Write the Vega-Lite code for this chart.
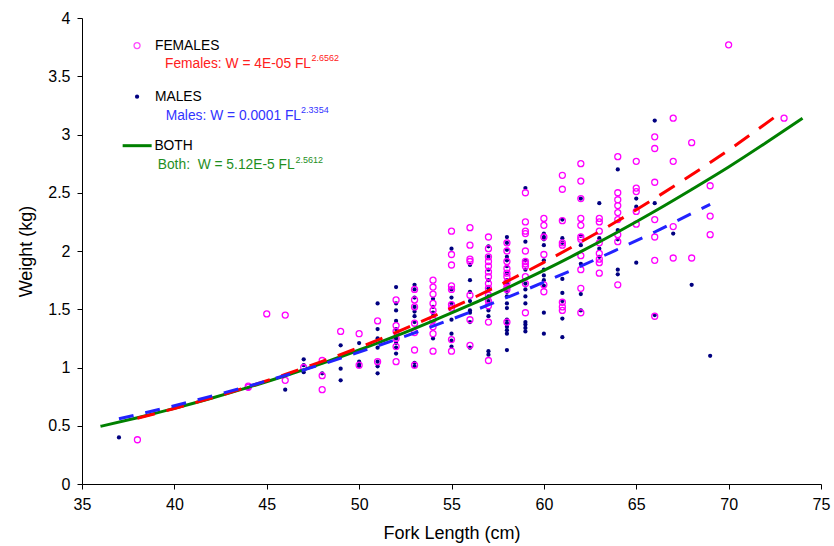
{
  "$schema": "https://vega.github.io/schema/vega-lite/v6.json",
  "width": 739,
  "height": 466,
  "autosize": "none",
  "padding": {"left": 82, "top": 18, "right": 13, "bottom": 62},
  "background": "white",
  "config": {
    "view": {"stroke": null},
    "font": "Liberation Sans",
    "axis": {"domainColor": "#000000", "tickColor": "#000000", "labelColor": "#000000", "titleColor": "#000000", "grid": false, "tickSize": 5, "labelFontSize": 16, "titleFontSize": 18, "titleFontWeight": "normal", "labelFont": "Liberation Sans", "titleFont": "Liberation Sans"}
  },
  "datasets": {
    "pts": [
      {"sex":"F","FL":38,"W":0.38},
      {"sex":"F","FL":44,"W":0.83},{"sex":"F","FL":44,"W":0.84},
      {"sex":"F","FL":45,"W":1.46},
      {"sex":"F","FL":46,"W":1.45},{"sex":"F","FL":46,"W":0.89},
      {"sex":"F","FL":47,"W":1.0},
      {"sex":"F","FL":48,"W":1.06},{"sex":"F","FL":48,"W":0.93},{"sex":"F","FL":48,"W":0.81},
      {"sex":"F","FL":49,"W":1.31},
      {"sex":"F","FL":50,"W":1.29},{"sex":"F","FL":50,"W":1.02},
      {"sex":"F","FL":51,"W":1.40},{"sex":"F","FL":51,"W":1.05},
      {"sex":"F","FL":52,"W":1.58},{"sex":"F","FL":52,"W":1.36},{"sex":"F","FL":52,"W":1.31},{"sex":"F","FL":52,"W":1.25},{"sex":"F","FL":52,"W":1.18},{"sex":"F","FL":52,"W":1.05},
      {"sex":"F","FL":53,"W":1.67},{"sex":"F","FL":53,"W":1.58},{"sex":"F","FL":53,"W":1.52},{"sex":"F","FL":53,"W":1.38},{"sex":"F","FL":53,"W":1.30},{"sex":"F","FL":53,"W":1.15},{"sex":"F","FL":53,"W":1.02},
      {"sex":"F","FL":54,"W":1.75},{"sex":"F","FL":54,"W":1.69},{"sex":"F","FL":54,"W":1.63},{"sex":"F","FL":54,"W":1.55},{"sex":"F","FL":54,"W":1.49},{"sex":"F","FL":54,"W":1.41},{"sex":"F","FL":54,"W":1.35},{"sex":"F","FL":54,"W":1.29},{"sex":"F","FL":54,"W":1.14},
      {"sex":"F","FL":55,"W":2.17},{"sex":"F","FL":55,"W":1.97},{"sex":"F","FL":55,"W":1.88},{"sex":"F","FL":55,"W":1.70},{"sex":"F","FL":55,"W":1.67},{"sex":"F","FL":55,"W":1.54},{"sex":"F","FL":55,"W":1.51},{"sex":"F","FL":55,"W":1.24},{"sex":"F","FL":55,"W":1.14},
      {"sex":"F","FL":56,"W":2.20},{"sex":"F","FL":56,"W":2.05},{"sex":"F","FL":56,"W":1.93},{"sex":"F","FL":56,"W":1.91},{"sex":"F","FL":56,"W":1.62},{"sex":"F","FL":56,"W":1.41},{"sex":"F","FL":56,"W":1.19},
      {"sex":"F","FL":57,"W":2.12},{"sex":"F","FL":57,"W":2.02},{"sex":"F","FL":57,"W":1.95},{"sex":"F","FL":57,"W":1.91},{"sex":"F","FL":57,"W":1.87},{"sex":"F","FL":57,"W":1.82},{"sex":"F","FL":57,"W":1.78},{"sex":"F","FL":57,"W":1.72},{"sex":"F","FL":57,"W":1.68},{"sex":"F","FL":57,"W":1.62},{"sex":"F","FL":57,"W":1.57},{"sex":"F","FL":57,"W":1.53},{"sex":"F","FL":57,"W":1.39},{"sex":"F","FL":57,"W":1.06},
      {"sex":"F","FL":58,"W":2.07},{"sex":"F","FL":58,"W":2.00},{"sex":"F","FL":58,"W":1.91},{"sex":"F","FL":58,"W":1.85},{"sex":"F","FL":58,"W":1.81},{"sex":"F","FL":58,"W":1.78},{"sex":"F","FL":58,"W":1.73},{"sex":"F","FL":58,"W":1.69},{"sex":"F","FL":58,"W":1.67},{"sex":"F","FL":58,"W":1.39},
      {"sex":"F","FL":59,"W":2.50},{"sex":"F","FL":59,"W":2.25},{"sex":"F","FL":59,"W":2.17},{"sex":"F","FL":59,"W":2.15},{"sex":"F","FL":59,"W":2.00},{"sex":"F","FL":59,"W":1.91},{"sex":"F","FL":59,"W":1.89},{"sex":"F","FL":59,"W":1.87},{"sex":"F","FL":59,"W":1.78},{"sex":"F","FL":59,"W":1.72},{"sex":"F","FL":59,"W":1.47},
      {"sex":"F","FL":60,"W":2.28},{"sex":"F","FL":60,"W":2.22},{"sex":"F","FL":60,"W":2.12},{"sex":"F","FL":60,"W":1.97},{"sex":"F","FL":60,"W":1.71},{"sex":"F","FL":60,"W":1.65},
      {"sex":"F","FL":61,"W":2.65},{"sex":"F","FL":61,"W":2.53},{"sex":"F","FL":61,"W":2.26},{"sex":"F","FL":61,"W":2.07},{"sex":"F","FL":61,"W":2.05},{"sex":"F","FL":61,"W":1.56},{"sex":"F","FL":61,"W":1.52},{"sex":"F","FL":61,"W":1.49},
      {"sex":"F","FL":62,"W":2.75},{"sex":"F","FL":62,"W":2.60},{"sex":"F","FL":62,"W":2.45},{"sex":"F","FL":62,"W":2.28},{"sex":"F","FL":62,"W":2.22},{"sex":"F","FL":62,"W":2.12},{"sex":"F","FL":62,"W":2.10},{"sex":"F","FL":62,"W":1.96},{"sex":"F","FL":62,"W":1.84},{"sex":"F","FL":62,"W":1.68},{"sex":"F","FL":62,"W":1.47},
      {"sex":"F","FL":63,"W":2.28},{"sex":"F","FL":63,"W":2.25},{"sex":"F","FL":63,"W":2.17},{"sex":"F","FL":63,"W":2.07},{"sex":"F","FL":63,"W":1.98},{"sex":"F","FL":63,"W":1.93},{"sex":"F","FL":63,"W":1.90},{"sex":"F","FL":63,"W":1.81},
      {"sex":"F","FL":64,"W":2.81},{"sex":"F","FL":64,"W":2.50},{"sex":"F","FL":64,"W":2.44},{"sex":"F","FL":64,"W":2.39},{"sex":"F","FL":64,"W":2.33},{"sex":"F","FL":64,"W":2.27},{"sex":"F","FL":64,"W":2.14},{"sex":"F","FL":64,"W":2.08},{"sex":"F","FL":64,"W":1.71},
      {"sex":"F","FL":65,"W":2.77},{"sex":"F","FL":65,"W":2.54},{"sex":"F","FL":65,"W":2.51},{"sex":"F","FL":65,"W":2.34},{"sex":"F","FL":65,"W":2.23},
      {"sex":"F","FL":66,"W":2.98},{"sex":"F","FL":66,"W":2.88},{"sex":"F","FL":66,"W":2.59},{"sex":"F","FL":66,"W":2.27},{"sex":"F","FL":66,"W":2.12},{"sex":"F","FL":66,"W":1.92},{"sex":"F","FL":66,"W":1.44},
      {"sex":"F","FL":67,"W":3.14},{"sex":"F","FL":67,"W":2.77},{"sex":"F","FL":67,"W":2.21},{"sex":"F","FL":67,"W":1.94},
      {"sex":"F","FL":68,"W":2.93},{"sex":"F","FL":68,"W":1.94},
      {"sex":"F","FL":69,"W":2.56},{"sex":"F","FL":69,"W":2.30},{"sex":"F","FL":69,"W":2.14},
      {"sex":"F","FL":70,"W":3.77},
      {"sex":"F","FL":73,"W":3.14},
      {"sex":"M","FL":37,"W":0.40},
      {"sex":"M","FL":44,"W":0.82},
      {"sex":"M","FL":46,"W":0.81},
      {"sex":"M","FL":47,"W":1.07},{"sex":"M","FL":47,"W":1.02},{"sex":"M","FL":47,"W":0.96},
      {"sex":"M","FL":48,"W":0.95},
      {"sex":"M","FL":49,"W":1.19},{"sex":"M","FL":49,"W":0.99},{"sex":"M","FL":49,"W":0.89},
      {"sex":"M","FL":50,"W":1.21},{"sex":"M","FL":50,"W":1.05},{"sex":"M","FL":50,"W":1.03},{"sex":"M","FL":50,"W":1.01},
      {"sex":"M","FL":51,"W":1.55},{"sex":"M","FL":51,"W":1.33},{"sex":"M","FL":51,"W":1.25},{"sex":"M","FL":51,"W":1.17},{"sex":"M","FL":51,"W":1.05},{"sex":"M","FL":51,"W":1.01},{"sex":"M","FL":51,"W":0.95},
      {"sex":"M","FL":52,"W":1.69},{"sex":"M","FL":52,"W":1.55},{"sex":"M","FL":52,"W":1.49},{"sex":"M","FL":52,"W":1.40},{"sex":"M","FL":52,"W":1.33},{"sex":"M","FL":52,"W":1.25},{"sex":"M","FL":52,"W":1.21},{"sex":"M","FL":52,"W":1.17},{"sex":"M","FL":52,"W":1.12},
      {"sex":"M","FL":53,"W":1.71},{"sex":"M","FL":53,"W":1.67},{"sex":"M","FL":53,"W":1.60},{"sex":"M","FL":53,"W":1.52},{"sex":"M","FL":53,"W":1.48},{"sex":"M","FL":53,"W":1.44},{"sex":"M","FL":53,"W":1.39},{"sex":"M","FL":53,"W":1.04},{"sex":"M","FL":53,"W":1.01},
      {"sex":"M","FL":54,"W":1.59},{"sex":"M","FL":54,"W":1.52},{"sex":"M","FL":54,"W":1.47},{"sex":"M","FL":54,"W":1.44},{"sex":"M","FL":54,"W":1.39},{"sex":"M","FL":54,"W":1.25},
      {"sex":"M","FL":55,"W":2.02},{"sex":"M","FL":55,"W":1.67},{"sex":"M","FL":55,"W":1.60},{"sex":"M","FL":55,"W":1.55},{"sex":"M","FL":55,"W":1.41},{"sex":"M","FL":55,"W":1.29},{"sex":"M","FL":55,"W":1.23},{"sex":"M","FL":55,"W":1.18},
      {"sex":"M","FL":56,"W":1.88},{"sex":"M","FL":56,"W":1.75},{"sex":"M","FL":56,"W":1.65},{"sex":"M","FL":56,"W":1.57},{"sex":"M","FL":56,"W":1.49},{"sex":"M","FL":56,"W":1.47},{"sex":"M","FL":56,"W":1.39},{"sex":"M","FL":56,"W":1.17},
      {"sex":"M","FL":57,"W":2.04},{"sex":"M","FL":57,"W":1.95},{"sex":"M","FL":57,"W":1.84},{"sex":"M","FL":57,"W":1.75},{"sex":"M","FL":57,"W":1.68},{"sex":"M","FL":57,"W":1.61},{"sex":"M","FL":57,"W":1.57},{"sex":"M","FL":57,"W":1.49},{"sex":"M","FL":57,"W":1.44},{"sex":"M","FL":57,"W":1.14},{"sex":"M","FL":57,"W":1.11},
      {"sex":"M","FL":58,"W":2.12},{"sex":"M","FL":58,"W":2.07},{"sex":"M","FL":58,"W":2.01},{"sex":"M","FL":58,"W":1.95},{"sex":"M","FL":58,"W":1.92},{"sex":"M","FL":58,"W":1.87},{"sex":"M","FL":58,"W":1.81},{"sex":"M","FL":58,"W":1.75},{"sex":"M","FL":58,"W":1.72},{"sex":"M","FL":58,"W":1.65},{"sex":"M","FL":58,"W":1.61},{"sex":"M","FL":58,"W":1.55},{"sex":"M","FL":58,"W":1.51},{"sex":"M","FL":58,"W":1.41},{"sex":"M","FL":58,"W":1.38},{"sex":"M","FL":58,"W":1.35},{"sex":"M","FL":58,"W":1.32},{"sex":"M","FL":58,"W":1.29},{"sex":"M","FL":58,"W":1.15},
      {"sex":"M","FL":59,"W":2.54},{"sex":"M","FL":59,"W":2.08},{"sex":"M","FL":59,"W":1.92},{"sex":"M","FL":59,"W":1.84},{"sex":"M","FL":59,"W":1.72},{"sex":"M","FL":59,"W":1.67},{"sex":"M","FL":59,"W":1.61},{"sex":"M","FL":59,"W":1.55},{"sex":"M","FL":59,"W":1.39},{"sex":"M","FL":59,"W":1.37},{"sex":"M","FL":59,"W":1.34},{"sex":"M","FL":59,"W":1.31},
      {"sex":"M","FL":60,"W":2.15},{"sex":"M","FL":60,"W":2.12},{"sex":"M","FL":60,"W":2.10},{"sex":"M","FL":60,"W":2.05},{"sex":"M","FL":60,"W":1.92},{"sex":"M","FL":60,"W":1.84},{"sex":"M","FL":60,"W":1.79},{"sex":"M","FL":60,"W":1.75},{"sex":"M","FL":60,"W":1.70},{"sex":"M","FL":60,"W":1.47},{"sex":"M","FL":60,"W":1.29},
      {"sex":"M","FL":61,"W":2.27},{"sex":"M","FL":61,"W":2.11},{"sex":"M","FL":61,"W":2.07},{"sex":"M","FL":61,"W":1.76},{"sex":"M","FL":61,"W":1.64},{"sex":"M","FL":61,"W":1.57},{"sex":"M","FL":61,"W":1.42},{"sex":"M","FL":61,"W":1.26},
      {"sex":"M","FL":62,"W":2.45},{"sex":"M","FL":62,"W":2.13},{"sex":"M","FL":62,"W":2.05},{"sex":"M","FL":62,"W":1.89},{"sex":"M","FL":62,"W":1.63},{"sex":"M","FL":62,"W":1.49},
      {"sex":"M","FL":63,"W":2.41},{"sex":"M","FL":63,"W":2.11},{"sex":"M","FL":63,"W":2.02},{"sex":"M","FL":63,"W":1.95},
      {"sex":"M","FL":64,"W":2.70},{"sex":"M","FL":64,"W":2.18},{"sex":"M","FL":64,"W":2.10},{"sex":"M","FL":64,"W":1.84},{"sex":"M","FL":64,"W":1.80},
      {"sex":"M","FL":65,"W":2.45},{"sex":"M","FL":65,"W":2.38},{"sex":"M","FL":65,"W":1.90},
      {"sex":"M","FL":66,"W":3.12},{"sex":"M","FL":66,"W":2.41},{"sex":"M","FL":66,"W":1.45},
      {"sex":"M","FL":67,"W":2.15},
      {"sex":"M","FL":68,"W":1.71},
      {"sex":"M","FL":69,"W":1.10}
    ],
    "fits": [
      {"fit":"Both","FL":36,"W":0.495},{"fit":"Both","FL":38,"W":0.569},{"fit":"Both","FL":40,"W":0.649},{"fit":"Both","FL":42,"W":0.736},{"fit":"Both","FL":44,"W":0.829},{"fit":"Both","FL":46,"W":0.929},{"fit":"Both","FL":48,"W":1.036},{"fit":"Both","FL":50,"W":1.150},{"fit":"Both","FL":52,"W":1.271},{"fit":"Both","FL":54,"W":1.401},{"fit":"Both","FL":56,"W":1.537},{"fit":"Both","FL":58,"W":1.682},{"fit":"Both","FL":60,"W":1.833},{"fit":"Both","FL":62,"W":1.994},{"fit":"Both","FL":64,"W":2.163},{"fit":"Both","FL":66,"W":2.341},{"fit":"Both","FL":68,"W":2.528},{"fit":"Both","FL":70,"W":2.721},{"fit":"Both","FL":72,"W":2.927},{"fit":"Both","FL":74,"W":3.14},
      {"fit":"Females","FL":38,"W":0.565},{"fit":"Females","FL":40,"W":0.648},{"fit":"Females","FL":42,"W":0.738},{"fit":"Females","FL":44,"W":0.835},{"fit":"Females","FL":46,"W":0.940},{"fit":"Females","FL":48,"W":1.053},{"fit":"Females","FL":50,"W":1.172},{"fit":"Females","FL":52,"W":1.301},{"fit":"Females","FL":54,"W":1.439},{"fit":"Females","FL":56,"W":1.584},{"fit":"Females","FL":58,"W":1.739},{"fit":"Females","FL":60,"W":1.903},{"fit":"Females","FL":62,"W":2.077},{"fit":"Females","FL":64,"W":2.259},{"fit":"Females","FL":66,"W":2.452},{"fit":"Females","FL":68,"W":2.654},{"fit":"Females","FL":70,"W":2.866},{"fit":"Females","FL":72.5,"W":3.15},
      {"fit":"Males","FL":37,"W":0.56},{"fit":"Males","FL":40,"W":0.672},{"fit":"Males","FL":42,"W":0.754},{"fit":"Males","FL":44,"W":0.839},{"fit":"Males","FL":46,"W":0.932},{"fit":"Males","FL":48,"W":1.028},{"fit":"Males","FL":50,"W":1.132},{"fit":"Males","FL":52,"W":1.241},{"fit":"Males","FL":54,"W":1.355},{"fit":"Males","FL":56,"W":1.475},{"fit":"Males","FL":58,"W":1.601},{"fit":"Males","FL":60,"W":1.732},{"fit":"Males","FL":62,"W":1.870},{"fit":"Males","FL":64,"W":2.015},{"fit":"Males","FL":66,"W":2.163},{"fit":"Males","FL":68,"W":2.322},{"fit":"Males","FL":69,"W":2.40}
    ]
  },
  "encoding": {
    "x": {"type": "quantitative", "scale": {"domain": [35, 75], "nice": false, "zero": false}},
    "y": {"type": "quantitative", "scale": {"domain": [0, 4], "nice": false}}
  },
  "layer": [
    {
      "data": {"name": "pts"},
      "transform": [{"filter": "datum.sex === 'M'"}],
      "mark": {"type": "circle", "size": 18, "color": "#000080", "opacity": 1},
      "encoding": {
        "x": {"field": "FL", "type": "quantitative", "title": "Fork Length (cm)",
              "axis": {"values": [35,40,45,50,55,60,65,70,75], "format": "~g", "labelPadding": 7, "titlePadding": 12, "labelFlush": false}},
        "y": {"field": "W", "type": "quantitative", "title": "Weight (kg)",
              "axis": {"values": [0,0.5,1,1.5,2,2.5,3,3.5,4], "format": "~g", "labelPadding": 7, "titlePadding": 12}}
      }
    },
    {
      "data": {"name": "pts"},
      "transform": [{"filter": "datum.sex === 'F'"}],
      "mark": {"type": "point", "shape": "circle", "size": 36, "stroke": "#FF00FF", "strokeWidth": 1.3, "filled": false, "opacity": 1},
      "encoding": {"x": {"field": "FL"}, "y": {"field": "W"}}
    },
    {
      "data": {"name": "fits"},
      "transform": [{"filter": "datum.fit === 'Both'"}],
      "mark": {"type": "line", "color": "#008000", "strokeWidth": 3, "interpolate": "monotone"},
      "encoding": {"x": {"field": "FL"}, "y": {"field": "W"}}
    },
    {
      "data": {"name": "fits"},
      "transform": [{"filter": "datum.fit === 'Females'"}],
      "mark": {"type": "line", "color": "#FF0000", "strokeWidth": 3, "strokeDash": [18, 12], "interpolate": "monotone"},
      "encoding": {"x": {"field": "FL"}, "y": {"field": "W"}}
    },
    {
      "data": {"name": "fits"},
      "transform": [{"filter": "datum.fit === 'Males'"}],
      "mark": {"type": "line", "color": "#2222FF", "strokeWidth": 3, "strokeDash": [15, 12], "interpolate": "monotone"},
      "encoding": {"x": {"field": "FL"}, "y": {"field": "W"}}
    },
    {
      "data": {"values": [{}]},
      "mark": {"type": "point", "shape": "circle", "size": 36, "stroke": "#FF00FF", "strokeWidth": 1.3, "filled": false},
      "encoding": {"x": {"datum": 37.98}, "y": {"datum": 3.763}}
    },
    {
      "data": {"values": [{}]},
      "mark": {"type": "circle", "size": 18, "color": "#000080", "opacity": 1},
      "encoding": {"x": {"datum": 37.98}, "y": {"datum": 3.325}}
    },
    {
      "data": {"values": [{}]},
      "mark": {"type": "rule", "color": "#008000", "strokeWidth": 3},
      "encoding": {"x": {"datum": 37.2}, "x2": {"datum": 38.77}, "y": {"datum": 2.904}}
    },
    {
      "data": {"values": [{"t": "FEMALES"}]},
      "mark": {"type": "text", "align": "left", "baseline": "middle", "fontSize": 13.8, "color": "#000000"},
      "encoding": {"x": {"datum": 38.95}, "y": {"datum": 3.763}, "text": {"field": "t"}}
    },
    {
      "data": {"values": [{"t": "MALES"}]},
      "mark": {"type": "text", "align": "left", "baseline": "middle", "fontSize": 13.8, "color": "#000000"},
      "encoding": {"x": {"datum": 38.95}, "y": {"datum": 3.325}, "text": {"field": "t"}}
    },
    {
      "data": {"values": [{"t": "BOTH"}]},
      "mark": {"type": "text", "align": "left", "baseline": "middle", "fontSize": 13.8, "color": "#000000"},
      "encoding": {"x": {"datum": 38.92}, "y": {"datum": 2.904}, "text": {"field": "t"}}
    },
    {
      "data": {"values": [{"t": "Females: W = 4E-05 FL"}]},
      "mark": {"type": "text", "align": "left", "baseline": "middle", "fontSize": 13.8, "color": "#FF2020"},
      "encoding": {"x": {"datum": 39.49}, "y": {"datum": 3.608}, "text": {"field": "t"}}
    },
    {
      "data": {"values": [{"t": "2.6562"}]},
      "mark": {"type": "text", "align": "left", "baseline": "middle", "fontSize": 9, "color": "#FF2020"},
      "encoding": {"x": {"datum": 47.42}, "y": {"datum": 3.66}, "text": {"field": "t"}}
    },
    {
      "data": {"values": [{"t": "Males: W = 0.0001 FL"}]},
      "mark": {"type": "text", "align": "left", "baseline": "middle", "fontSize": 13.8, "color": "#3333FF"},
      "encoding": {"x": {"datum": 39.53}, "y": {"datum": 3.162}, "text": {"field": "t"}}
    },
    {
      "data": {"values": [{"t": "2.3354"}]},
      "mark": {"type": "text", "align": "left", "baseline": "middle", "fontSize": 9, "color": "#3333FF"},
      "encoding": {"x": {"datum": 46.86}, "y": {"datum": 3.21}, "text": {"field": "t"}}
    },
    {
      "data": {"values": [{"t": "Both:\u00a0 W = 5.12E-5 FL"}]},
      "mark": {"type": "text", "align": "left", "baseline": "middle", "fontSize": 13.8, "color": "#1F8F1F"},
      "encoding": {"x": {"datum": 39.1}, "y": {"datum": 2.735}, "text": {"field": "t"}}
    },
    {
      "data": {"values": [{"t": "2.5612"}]},
      "mark": {"type": "text", "align": "left", "baseline": "middle", "fontSize": 9, "color": "#1F8F1F"},
      "encoding": {"x": {"datum": 46.56}, "y": {"datum": 2.78}, "text": {"field": "t"}}
    }
  ]
}
